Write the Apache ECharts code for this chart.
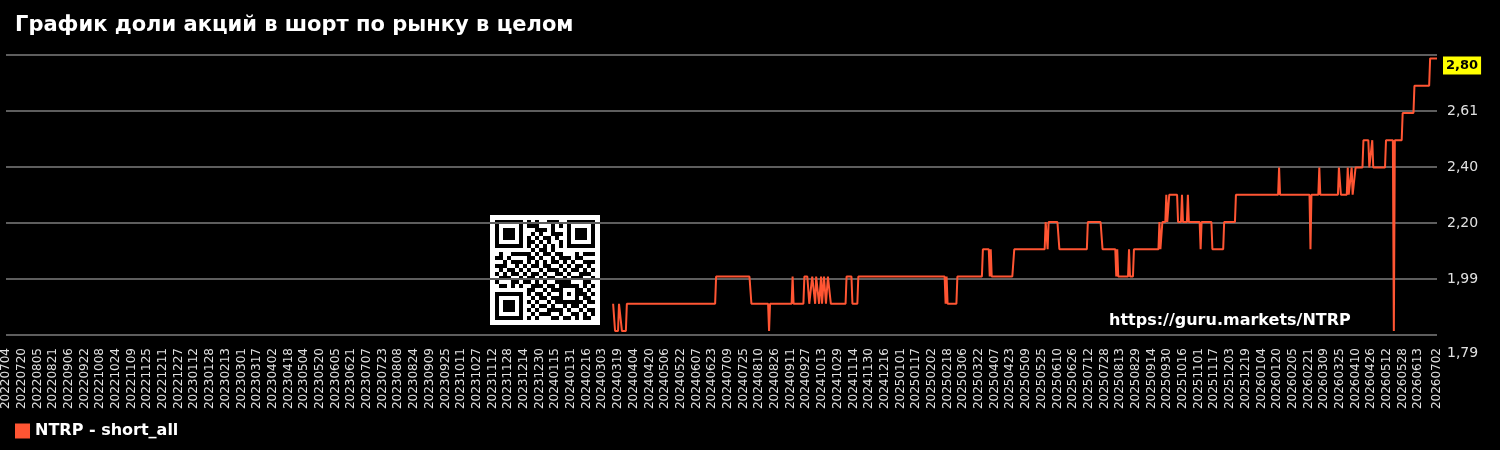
<!DOCTYPE html>
<html>
<head>
<meta charset="utf-8">
<script src="https://cdn.jsdelivr.net/npm/echarts@6/dist/echarts.min.js"></script>
<style>
html,body{margin:0;padding:0;background:#000;}
#chart{width:1500px;height:450px;}
</style>
</head>
<body>
<div id="chart"></div>
<script>
// ---- DATA ----
const titleText = 'График доли акций в шорт по рынку в целом';
const seriesName = 'NTRP - short_all';
const watermarkText = 'https://guru.markets/NTRP';
const firstDate = '20220704';
const lastDate = '20260702';
const yTickLabels = ['1,79', '1,99', '2,20', '2,40', '2,61', '2,81'];
const yMin = 1.7855;
const yInterval = 0.2054;

// vertices of the line (date, value)
const vertexDates = [
  '20240314','20240316','20240319','20240320','20240321','20240323','20240327','20240328',
  '20240626','20240627','20240731','20240802','20240819','20240820','20240821',
  '20240912','20240913','20240914','20240924','20240925','20240928','20240930',
  '20241002','20241003','20241005','20241006','20241007','20241009','20241010','20241011',
  '20241012','20241013','20241014','20241015','20241016','20241017','20241018','20241019',
  '20241021','20241022','20241106','20241107','20241112','20241113','20241118','20241119',
  '20250215','20250216','20250217','20250218','20250227','20250228',
  '20250325','20250326','20250401','20250402','20250403','20250404','20250425','20250427',
  '20250528','20250529','20250531','20250601','20250610','20250612','20250710','20250711',
  '20250724','20250726',
  '20250808','20250809','20250810','20250811','20250821','20250822','20250823','20250826','20250827',
  '20250921','20250922','20250923','20250925','20250928','20250929','20250930','20251002',
  '20251010','20251011','20251014','20251015','20251016','20251020','20251021','20251022',
  '20251102','20251103','20251104','20251114','20251115','20251126','20251127','20251208','20251209',
  '20260121','20260122','20260123','20260222','20260223','20260224','20260303','20260304','20260305',
  '20260323','20260324','20260325','20260326',
  '20260401','20260402','20260403','20260405','20260406','20260407','20260409','20260410',
  '20260417','20260418','20260423','20260424','20260426','20260427','20260428',
  '20260510','20260511','20260518','20260519','20260520','20260527','20260528',
  '20260608','20260609','20260624','20260625','20260702'
];
const vertexValues = [
  1.90,1.80,1.80,1.90,1.90,1.80,1.80,1.90,
  1.90,2.00,2.00,1.90,1.90,1.80,1.90,
  1.90,2.00,1.90,1.90,2.00,2.00,1.90,
  1.90,2.00,2.00,1.90,2.00,2.00,1.90,1.90,
  2.00,1.90,1.90,2.00,2.00,1.90,1.90,2.00,
  2.00,1.90,1.90,2.00,2.00,1.90,1.90,2.00,
  2.00,1.90,2.00,1.90,1.90,2.00,
  2.00,2.10,2.10,2.00,2.10,2.00,2.00,2.10,
  2.10,2.20,2.10,2.20,2.20,2.10,2.10,2.20,
  2.20,2.10,
  2.10,2.00,2.10,2.00,2.00,2.10,2.00,2.00,2.10,
  2.10,2.20,2.10,2.20,2.20,2.30,2.20,2.30,
  2.30,2.20,2.20,2.30,2.20,2.20,2.30,2.20,
  2.20,2.10,2.20,2.20,2.10,2.10,2.20,2.20,2.30,
  2.30,2.40,2.30,2.30,2.10,2.30,2.30,2.40,2.30,
  2.30,2.40,2.40,2.30,
  2.30,2.40,2.30,2.30,2.40,2.30,2.30,2.40,
  2.40,2.50,2.50,2.40,2.40,2.50,2.40,
  2.40,2.50,2.50,1.80,2.50,2.50,2.60,
  2.60,2.70,2.70,2.80,2.80
];

// QR-like decoration pattern (25x25 modules)
const qrRows = [
  "0101100110100111010011010","1100101011100010110101100","0011010100111010001110101",
  "1010011101010011101001011","0110110010101101010110100","1001101011010100101011011",
  "0110010110100101110100110","1011101001011010011101001","0100110110101101100010111",
  "1101001011010010111011000","0010111010101011010100111","1110010101101100101011010",
  "0101101010010111010110101","1010110101101001101001110","0111001011010110010111001",
  "1000110110101001111000110","0110101001110110010110101","1101010111001011101011010",
  "0010111010110100110101101","1011001101011011001010110","0100110010100101110101011",
  "1101011101011010010110100","0011100110100111101001011","1110011001011100100110101",
  "0101101110100011011010110"
];

// ---- build categories (calendar days) ----
function ymd(d){
  const y=d.getUTCFullYear(), m=d.getUTCMonth()+1, dd=d.getUTCDate();
  return ''+y+(m<10?'0':'')+m+(dd<10?'0':'')+dd;
}
function parse(s){return new Date(Date.UTC(+s.slice(0,4), +s.slice(4,6)-1, +s.slice(6,8)));}
const categories = [];
for (let d = parse(firstDate); ymd(d) <= lastDate; d = new Date(d.getTime()+86400000)) categories.push(ymd(d));
const lastIdx = categories.length - 1;

const seriesData = vertexDates.map((d,i)=>[d, vertexValues[i]]);

// ---- QR graphic ----
const grid = qrRows.map(r=>r.split('').map(c=>c==='1'));
function finder(r0,c0){
  for(let r=-1;r<=7;r++)for(let c=-1;c<=7;c++){
    const rr=r0+r, cc=c0+c; if(rr<0||cc<0||rr>24||cc>24) continue;
    let v=false;
    if(r>=0&&r<=6&&c>=0&&c<=6){
      v = (r===0||r===6||c===0||c===6) || (r>=2&&r<=4&&c>=2&&c<=4);
    }
    grid[rr][cc]=v;
  }
}
finder(0,0); finder(0,18); finder(18,0);
for(let i=8;i<=16;i++){grid[6][i]=(i%2===0);grid[i][6]=(i%2===0);}
for(let r=-2;r<=2;r++)for(let c=-2;c<=2;c++){
  grid[18+r][18+c] = (Math.abs(r)===2||Math.abs(c)===2||(r===0&&c===0));
}
const qrChildren=[{type:'rect',shape:{x:0,y:0,width:110,height:110},style:{fill:'#ffffff'}}];
for(let r=0;r<25;r++){
  let c=0;
  while(c<25){
    if(grid[r][c]){
      let e=c; while(e+1<25&&grid[r][e+1]) e++;
      qrChildren.push({type:'rect',shape:{x:5+c*4,y:5+r*4,width:(e-c+1)*4,height:4},style:{fill:'#000'}});
      c=e+1;
    } else c++;
  }
}

const FONT='DejaVu Sans';
const chart = echarts.init(document.getElementById('chart'), null, {renderer:'canvas'});
chart.setOption({
  backgroundColor:'#000000',
  animation:false,
  title:{
    text:titleText, left:15, top:15, padding:0,
    textStyle:{color:'#ffffff', fontSize:21, fontWeight:'bold', fontFamily:FONT}
  },
  legend:{
    data:[seriesName], left:15, top:423, padding:0,
    icon:'rect', itemWidth:15, itemHeight:15, itemGap:10,
    textStyle:{color:'#ffffff', fontSize:16, fontWeight:'bold', fontFamily:FONT}
  },
  grid:{left:6, right:63, top:55, bottom:115, containLabel:false},
  xAxis:{
    type:'category', data:categories, boundaryGap:false,
    axisLine:{show:false}, axisTick:{show:false}, splitLine:{show:false},
    axisLabel:{
      rotate:90, color:'#e0e0e0', fontSize:12, fontFamily:FONT, margin:13,
      interval:function(idx){ return (idx%16===0 && idx<=lastIdx-16) || idx===lastIdx; }
    }
  },
  yAxis:{
    type:'value', position:'right', min:yMin, max:yMin+5*yInterval, interval:yInterval,
    axisLine:{show:false}, axisTick:{show:false},
    splitLine:{show:true, lineStyle:{color:'#5e5e5e', width:2}},
    axisLabel:{
      color:'#e0e0e0', fontSize:14, fontFamily:FONT, margin:10, lineHeight:12,
      showMaxLabel:false,
      formatter:function(v, i){
        if(i===5) return '';
        return i===0 ? '\n\n\n'+yTickLabels[0] : yTickLabels[i];
      }
    }
  },
  graphic:[
    {type:'group', left:490, top:215, children:qrChildren},
    {type:'text', left:1109, top:313, style:{text:watermarkText, fill:'#ffffff', font:'bold 16px "DejaVu Sans"'}}
  ],
  series:[{
    name:seriesName, type:'line', data:seriesData, showSymbol:false, symbol:'none',
    color:'#ff5533',
    lineStyle:{color:'#ff5533', width:2},
    endLabel:{
      show:true, formatter:function(p){return p.value[1].toFixed(2).replace('.',',');},
      backgroundColor:'#ffff00', color:'#000000', fontWeight:'bold', fontSize:13, fontFamily:FONT,
      padding:[3,3,2,3], distance:6, offset:[0,7]
    }
  }]
});
</script>
</body>
</html>
